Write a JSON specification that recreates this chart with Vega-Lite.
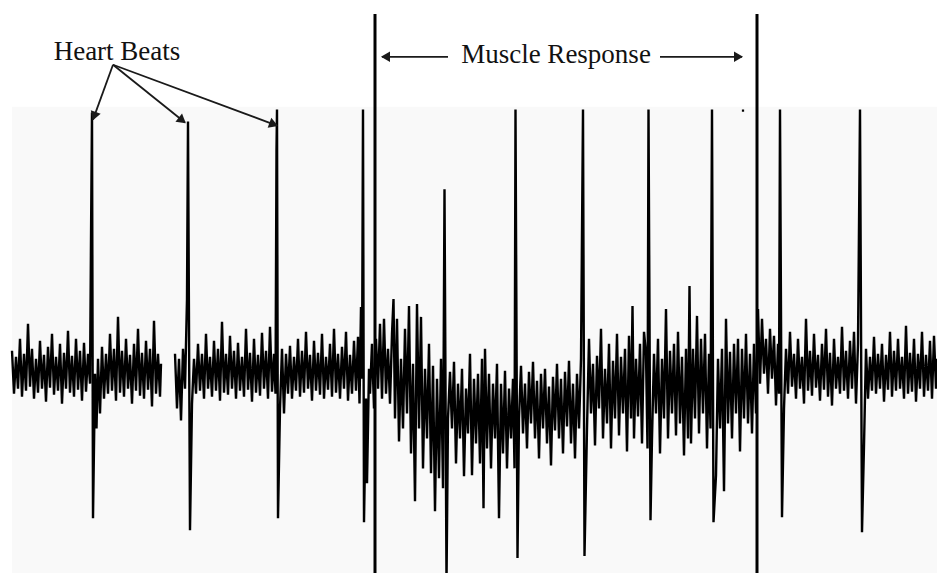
{
"$schema": "https://vega.github.io/schema/vega-lite/v6.json",
"width": 937, "height": 575, "padding": 0,
"autosize": {"type": "fit", "contains": "padding"},
"background": "white",
"config": {"view": {"stroke": null}},
"datasets": {
"panel": [{"t": 12, "t2": 937, "a": 263, "a2": -205}],
"trace": [
{"t":12,"a":18,"s":1},{"t":14,"a":-25,"s":1},{"t":16,"a":12,"s":1},{"t":18,"a":-20,"s":1},{"t":20,"a":30,"s":1},{"t":22,"a":-28,"s":1},{"t":24,"a":15,"s":1},{"t":26,"a":-22,"s":1},{"t":28,"a":45,"s":1},{"t":30,"a":-18,"s":1},{"t":32,"a":20,"s":1},{"t":34,"a":-30,"s":1},{"t":36,"a":10,"s":1},{"t":38,"a":-24,"s":1},{"t":40,"a":28,"s":1},{"t":42,"a":-20,"s":1},{"t":44,"a":14,"s":1},{"t":46,"a":-33,"s":1},{"t":48,"a":22,"s":1},{"t":50,"a":-19,"s":1},{"t":52,"a":35,"s":1},{"t":54,"a":-26,"s":1},{"t":56,"a":12,"s":1},{"t":58,"a":-22,"s":1},{"t":60,"a":25,"s":1},{"t":62,"a":-35,"s":1},{"t":64,"a":16,"s":1},{"t":66,"a":-20,"s":1},{"t":68,"a":38,"s":1},{"t":70,"a":-24,"s":1},{"t":72,"a":13,"s":1},{"t":74,"a":-28,"s":1},{"t":76,"a":30,"s":1},{"t":78,"a":-21,"s":1},{"t":80,"a":18,"s":1},{"t":82,"a":-32,"s":1},{"t":84,"a":26,"s":1},{"t":86,"a":-23,"s":1},{"t":88,"a":15,"s":1},{"t":90,"a":-15,"s":1},{"t":91,"a":130,"s":1},{"t":92,"a":257,"s":1},{"t":93,"a":-150,"s":1},{"t":95,"a":-5,"s":1},{"t":96.5,"a":-60,"s":1},
{"t":98,"a":10,"s":1},{"t":100,"a":-45,"s":1},{"t":102,"a":22,"s":1},{"t":104,"a":-30,"s":1},{"t":106,"a":15,"s":1},{"t":108,"a":-25,"s":1},{"t":110,"a":35,"s":1},{"t":112,"a":-22,"s":1},{"t":114,"a":20,"s":1},{"t":116,"a":-32,"s":1},{"t":118,"a":52,"s":1},{"t":120,"a":-24,"s":1},{"t":122,"a":18,"s":1},{"t":124,"a":-28,"s":1},{"t":126,"a":30,"s":1},{"t":128,"a":-20,"s":1},{"t":130,"a":14,"s":1},{"t":132,"a":-35,"s":1},{"t":134,"a":25,"s":1},{"t":136,"a":-22,"s":1},{"t":138,"a":40,"s":1},{"t":140,"a":-27,"s":1},{"t":142,"a":16,"s":1},{"t":144,"a":-30,"s":1},{"t":146,"a":28,"s":1},{"t":148,"a":-21,"s":1},{"t":150,"a":20,"s":1},{"t":152,"a":-38,"s":1},{"t":154,"a":48,"s":1},{"t":156,"a":-25,"s":1},{"t":158,"a":15,"s":1},{"t":160,"a":-28,"s":1},{"t":161,"a":5,"s":1},
{"t":175,"a":15,"s":2},{"t":177,"a":-40,"s":2},{"t":179,"a":10,"s":2},{"t":181,"a":-52,"s":2},{"t":183,"a":20,"s":2},{"t":185,"a":-20,"s":2},{"t":187,"a":70,"s":2},{"t":188,"a":248,"s":2},{"t":190,"a":-162,"s":2},
{"t":192,"a":-35,"s":2},{"t":194,"a":10,"s":2},{"t":196,"a":-25,"s":2},{"t":198,"a":25,"s":2},{"t":200,"a":-22,"s":2},{"t":202,"a":15,"s":2},{"t":204,"a":-30,"s":2},{"t":206,"a":35,"s":2},{"t":208,"a":-20,"s":2},{"t":210,"a":12,"s":2},{"t":212,"a":-28,"s":2},{"t":214,"a":28,"s":2},{"t":216,"a":-22,"s":2},{"t":218,"a":20,"s":2},{"t":220,"a":-32,"s":2},{"t":222,"a":47,"s":2},{"t":224,"a":-24,"s":2},{"t":226,"a":15,"s":2},{"t":228,"a":-26,"s":2},{"t":230,"a":33,"s":2},{"t":232,"a":-20,"s":2},{"t":234,"a":18,"s":2},{"t":236,"a":-30,"s":2},{"t":238,"a":26,"s":2},{"t":240,"a":-22,"s":2},{"t":242,"a":12,"s":2},{"t":244,"a":-28,"s":2},{"t":246,"a":40,"s":2},{"t":248,"a":-21,"s":2},{"t":250,"a":16,"s":2},{"t":252,"a":-33,"s":2},{"t":254,"a":30,"s":2},{"t":256,"a":-24,"s":2},{"t":258,"a":14,"s":2},{"t":260,"a":-27,"s":2},{"t":262,"a":36,"s":2},{"t":264,"a":-20,"s":2},{"t":266,"a":18,"s":2},{"t":268,"a":-30,"s":2},{"t":270,"a":42,"s":2},{"t":272,"a":-23,"s":2},{"t":274,"a":15,"s":2},{"t":275.5,"a":-25,"s":2},{"t":276.5,"a":220,"s":2},{"t":277,"a":260,"s":2},{"t":278,"a":-150,"s":2},{"t":280,"a":-40,"s":2},
{"t":282,"a":20,"s":2},{"t":284,"a":-45,"s":2},{"t":286,"a":15,"s":2},{"t":288,"a":-25,"s":2},{"t":290,"a":23,"s":2},{"t":292,"a":-30,"s":2},{"t":294,"a":12,"s":2},{"t":296,"a":-22,"s":2},{"t":298,"a":30,"s":2},{"t":300,"a":-28,"s":2},{"t":302,"a":18,"s":2},{"t":304,"a":-24,"s":2},{"t":306,"a":37,"s":2},{"t":308,"a":-20,"s":2},{"t":310,"a":14,"s":2},{"t":312,"a":-32,"s":2},{"t":314,"a":28,"s":2},{"t":316,"a":-22,"s":2},{"t":318,"a":16,"s":2},{"t":320,"a":-26,"s":2},{"t":322,"a":35,"s":2},{"t":324,"a":-30,"s":2},{"t":326,"a":12,"s":2},{"t":328,"a":-21,"s":2},{"t":330,"a":25,"s":2},{"t":332,"a":-28,"s":2},{"t":334,"a":40,"s":2},{"t":336,"a":-24,"s":2},{"t":338,"a":15,"s":2},{"t":340,"a":-30,"s":2},{"t":342,"a":22,"s":2},{"t":344,"a":-20,"s":2},{"t":346,"a":37,"s":2},{"t":348,"a":-32,"s":2},{"t":350,"a":14,"s":2},{"t":352,"a":-25,"s":2},{"t":354,"a":28,"s":2},{"t":356,"a":-22,"s":2},{"t":358,"a":32,"s":2},{"t":359.5,"a":-35,"s":2},{"t":361,"a":62,"s":2},{"t":362,"a":-10,"s":2},{"t":363,"a":260,"s":2},{"t":364,"a":-154,"s":2},{"t":366,"a":-30,"s":2},{"t":367,"a":-115,"s":2},{"t":369,"a":0,"s":2},
{"t":370,"a":-25,"s":2},{"t":372,"a":25,"s":2},{"t":374,"a":-40,"s":2},{"t":376,"a":30,"s":2},{"t":378,"a":-20,"s":2},{"t":380,"a":45,"s":2},{"t":382,"a":-30,"s":2},{"t":384,"a":50,"s":2},{"t":386,"a":-25,"s":2},{"t":388,"a":20,"s":2},{"t":390,"a":-35,"s":2},{"t":392,"a":35,"s":2},{"t":393.5,"a":70,"s":2},{"t":395,"a":-50,"s":2},{"t":397,"a":50,"s":2},{"t":399,"a":-73,"s":2},{"t":401,"a":10,"s":2},{"t":403,"a":-60,"s":2},{"t":405,"a":40,"s":2},{"t":407,"a":-45,"s":2},{"t":409,"a":63,"s":2},{"t":411,"a":-85,"s":2},{"t":413,"a":5,"s":2},{"t":415,"a":-133,"s":2},{"t":417,"a":65,"s":2},{"t":419,"a":-60,"s":2},{"t":421,"a":52,"s":2},{"t":423,"a":-100,"s":2},{"t":425,"a":0,"s":2},{"t":427,"a":-70,"s":2},{"t":429,"a":25,"s":2},{"t":431,"a":-105,"s":2},{"t":433,"a":3,"s":2},{"t":435,"a":-143,"s":2},{"t":437,"a":-10,"s":2},{"t":439,"a":-110,"s":2},{"t":441,"a":10,"s":2},{"t":443,"a":-120,"s":2},{"t":444.5,"a":180,"s":2},{"t":446.5,"a":-215,"s":2},{"t":448,"a":-50,"s":2},
{"t":450,"a":-3,"s":2},{"t":452,"a":-60,"s":2},{"t":454,"a":7,"s":2},{"t":456,"a":-95,"s":2},{"t":458,"a":-15,"s":2},{"t":460,"a":-70,"s":2},{"t":462,"a":0,"s":2},{"t":464,"a":-108,"s":2},{"t":466,"a":-20,"s":2},{"t":468,"a":-65,"s":2},{"t":470,"a":15,"s":2},{"t":472,"a":-107,"s":2},{"t":474,"a":-10,"s":2},{"t":476,"a":-75,"s":2},{"t":478,"a":-5,"s":2},{"t":480,"a":-95,"s":2},{"t":482,"a":10,"s":2},{"t":483.5,"a":-140,"s":2},{"t":485,"a":20,"s":2},{"t":487,"a":-80,"s":2},{"t":489,"a":-5,"s":2},{"t":491,"a":-100,"s":2},{"t":493,"a":-15,"s":2},{"t":495,"a":-70,"s":2},{"t":497,"a":5,"s":2},{"t":499,"a":-150,"s":2},{"t":501,"a":-15,"s":2},{"t":503,"a":-85,"s":2},{"t":505,"a":-2,"s":2},{"t":507,"a":-100,"s":2},{"t":509,"a":-20,"s":2},{"t":511,"a":-70,"s":2},{"t":513,"a":-10,"s":2},{"t":514.5,"a":-100,"s":2},{"t":515.5,"a":260,"s":2},{"t":517.5,"a":-190,"s":2},
{"t":519,"a":-50,"s":2},{"t":521,"a":3,"s":2},{"t":523,"a":-65,"s":2},{"t":525,"a":-15,"s":2},{"t":527,"a":-80,"s":2},{"t":529,"a":-3,"s":2},{"t":531,"a":-55,"s":2},{"t":533,"a":7,"s":2},{"t":535,"a":-70,"s":2},{"t":537,"a":-12,"s":2},{"t":539,"a":-90,"s":2},{"t":541,"a":-5,"s":2},{"t":543,"a":-60,"s":2},{"t":545,"a":0,"s":2},{"t":547,"a":-75,"s":2},{"t":549,"a":-18,"s":2},{"t":551,"a":-97,"s":2},{"t":553,"a":-8,"s":2},{"t":555,"a":-62,"s":2},{"t":557,"a":5,"s":2},{"t":559,"a":-70,"s":2},{"t":561,"a":-10,"s":2},{"t":563,"a":-85,"s":2},{"t":565,"a":-3,"s":2},{"t":567,"a":-58,"s":2},{"t":569,"a":8,"s":2},{"t":571,"a":-75,"s":2},{"t":573,"a":-15,"s":2},{"t":575,"a":-90,"s":2},{"t":577,"a":-5,"s":2},{"t":579,"a":-60,"s":2},{"t":581,"a":10,"s":2},{"t":583,"a":260,"s":2},{"t":584.5,"a":-188,"s":2},
{"t":587,"a":-60,"s":2},{"t":589,"a":30,"s":2},{"t":591,"a":-45,"s":2},{"t":593,"a":5,"s":2},{"t":595,"a":-77,"s":2},{"t":597,"a":13,"s":2},{"t":599,"a":-40,"s":2},{"t":601,"a":40,"s":2},{"t":603,"a":-70,"s":2},{"t":605,"a":0,"s":2},{"t":607,"a":-55,"s":2},{"t":609,"a":25,"s":2},{"t":611,"a":-80,"s":2},{"t":613,"a":8,"s":2},{"t":615,"a":-50,"s":2},{"t":617,"a":35,"s":2},{"t":619,"a":-67,"s":2},{"t":621,"a":12,"s":2},{"t":623,"a":-45,"s":2},{"t":625,"a":20,"s":2},{"t":627,"a":-83,"s":2},{"t":629,"a":33,"s":2},{"t":631,"a":-50,"s":2},{"t":632.5,"a":63,"s":2},{"t":634,"a":-70,"s":2},{"t":636,"a":10,"s":2},{"t":638,"a":-48,"s":2},{"t":640,"a":25,"s":2},{"t":642,"a":-75,"s":2},{"t":644,"a":37,"s":2},{"t":646,"a":15,"s":2},{"t":647.5,"a":-80,"s":2},{"t":648.5,"a":260,"s":2},{"t":650.5,"a":-152,"s":2},
{"t":652,"a":-70,"s":2},{"t":654,"a":15,"s":2},{"t":656,"a":-45,"s":2},{"t":658,"a":30,"s":2},{"t":660,"a":-85,"s":2},{"t":662,"a":10,"s":2},{"t":664,"a":-50,"s":2},{"t":666,"a":60,"s":2},{"t":668,"a":-70,"s":2},{"t":670,"a":18,"s":2},{"t":672,"a":-45,"s":2},{"t":674,"a":25,"s":2},{"t":676,"a":-67,"s":2},{"t":678,"a":37,"s":2},{"t":680,"a":-55,"s":2},{"t":682,"a":12,"s":2},{"t":684,"a":-87,"s":2},{"t":686,"a":20,"s":2},{"t":688,"a":-70,"s":2},{"t":689.5,"a":83,"s":2},{"t":691,"a":-75,"s":2},{"t":693,"a":20,"s":2},{"t":695,"a":-50,"s":2},{"t":697,"a":53,"s":2},{"t":699,"a":-65,"s":2},{"t":701,"a":30,"s":2},{"t":703,"a":-45,"s":2},{"t":705,"a":35,"s":2},{"t":707,"a":-80,"s":2},{"t":709,"a":15,"s":2},{"t":710.5,"a":-60,"s":2},{"t":712,"a":260,"s":2},{"t":713.5,"a":-154,"s":2},
{"t":716,"a":-107,"s":2},{"t":718,"a":10,"s":2},{"t":720,"a":-60,"s":2},{"t":722,"a":20,"s":2},{"t":724,"a":-123,"s":2},{"t":726,"a":50,"s":2},{"t":728,"a":-55,"s":2},{"t":730,"a":17,"s":2},{"t":732,"a":-70,"s":2},{"t":734,"a":25,"s":2},{"t":736,"a":-45,"s":2},{"t":738,"a":30,"s":2},{"t":740,"a":-83,"s":2},{"t":742,"a":20,"s":2},{"t":744,"a":-50,"s":2},{"t":746,"a":35,"s":2},{"t":748,"a":-55,"s":2},{"t":750,"a":15,"s":2},{"t":752,"a":-65,"s":2},{"t":754,"a":25,"s":2},{"t":756,"a":-45,"s":2},
{"t":758,"a":60,"s":2},{"t":760,"a":-15,"s":2},{"t":762,"a":50,"s":2},{"t":764,"a":-5,"s":2},{"t":766,"a":30,"s":2},{"t":768,"a":-25,"s":2},{"t":770,"a":40,"s":2},{"t":772,"a":-10,"s":2},{"t":774,"a":33,"s":2},{"t":776,"a":-37,"s":2},{"t":778,"a":25,"s":2},{"t":779,"a":-25,"s":2},{"t":780,"a":260,"s":2},{"t":782,"a":-149,"s":2},
{"t":784,"a":-40,"s":2},{"t":786,"a":20,"s":2},{"t":788,"a":-25,"s":2},{"t":790,"a":37,"s":2},{"t":792,"a":-18,"s":2},{"t":794,"a":15,"s":2},{"t":796,"a":-30,"s":2},{"t":798,"a":30,"s":2},{"t":800,"a":-20,"s":2},{"t":802,"a":12,"s":2},{"t":804,"a":-35,"s":2},{"t":806,"a":50,"s":2},{"t":808,"a":-22,"s":2},{"t":810,"a":18,"s":2},{"t":812,"a":-27,"s":2},{"t":814,"a":35,"s":2},{"t":816,"a":-19,"s":2},{"t":818,"a":14,"s":2},{"t":820,"a":-32,"s":2},{"t":822,"a":25,"s":2},{"t":824,"a":-21,"s":2},{"t":826,"a":40,"s":2},{"t":828,"a":-28,"s":2},{"t":830,"a":16,"s":2},{"t":832,"a":-37,"s":2},{"t":834,"a":30,"s":2},{"t":836,"a":-20,"s":2},{"t":838,"a":12,"s":2},{"t":840,"a":-25,"s":2},{"t":842,"a":42,"s":2},{"t":844,"a":-22,"s":2},{"t":846,"a":18,"s":2},{"t":848,"a":-30,"s":2},{"t":850,"a":28,"s":2},{"t":852,"a":-20,"s":2},{"t":854,"a":37,"s":2},{"t":856,"a":-35,"s":2},{"t":858,"a":25,"s":2},{"t":860,"a":260,"s":2},{"t":862,"a":-164,"s":2},{"t":864,"a":-77,"s":2},
{"t":866,"a":20,"s":2},{"t":868,"a":-30,"s":2},{"t":870,"a":12,"s":2},{"t":872,"a":-22,"s":2},{"t":874,"a":32,"s":2},{"t":876,"a":-25,"s":2},{"t":878,"a":15,"s":2},{"t":880,"a":-20,"s":2},{"t":882,"a":25,"s":2},{"t":884,"a":-33,"s":2},{"t":886,"a":14,"s":2},{"t":888,"a":-21,"s":2},{"t":890,"a":37,"s":2},{"t":892,"a":-28,"s":2},{"t":894,"a":18,"s":2},{"t":896,"a":-22,"s":2},{"t":898,"a":30,"s":2},{"t":900,"a":-20,"s":2},{"t":902,"a":12,"s":2},{"t":904,"a":-30,"s":2},{"t":906,"a":43,"s":2},{"t":908,"a":-25,"s":2},{"t":910,"a":16,"s":2},{"t":912,"a":-23,"s":2},{"t":914,"a":30,"s":2},{"t":916,"a":-33,"s":2},{"t":918,"a":15,"s":2},{"t":920,"a":-20,"s":2},{"t":922,"a":37,"s":2},{"t":924,"a":-28,"s":2},{"t":926,"a":14,"s":2},{"t":928,"a":-22,"s":2},{"t":930,"a":28,"s":2},{"t":932,"a":-30,"s":2},{"t":934,"a":33,"s":2},{"t":936,"a":-20,"s":2},{"t":937,"a":10,"s":2}
],
"markers": [{"t": 375, "a": 356, "a2": -205}, {"t": 757, "a": 356, "a2": -205}],
"arrows": [
{"t": 113, "a": 305, "t2": 93, "a2": 250},
{"t": 113, "a": 305, "t2": 185, "a2": 247},
{"t": 113, "a": 305, "t2": 277, "a2": 244},
{"t": 448, "a": 313, "t2": 382, "a2": 313},
{"t": 660, "a": 313, "t2": 742, "a2": 313}
],
"labels": [{"label": "Heart Beats", "t": 117, "a": 310}, {"label": "Muscle Response", "t": 556, "a": 307}],
"dots": [{"t": 743, "a": 259}]
},
"layer": [
{
"data": {"name": "panel"},
"mark": {"type": "rect", "fill": "#f9f9f9"},
"encoding": {
"x": {"field": "t", "type": "quantitative", "scale": {"domain": [0, 937], "nice": false, "zero": false}, "axis": null},
"x2": {"field": "t2"},
"y": {"field": "a", "type": "quantitative", "scale": {"domain": [-205, 370], "nice": false, "zero": false}, "axis": null},
"y2": {"field": "a2"}
}
},
{
"data": {"name": "trace"},
"mark": {"type": "line", "color": "#000000", "strokeWidth": 2.4, "clip": true},
"encoding": {
"x": {"field": "t", "type": "quantitative", "axis": null},
"y": {"field": "a", "type": "quantitative", "axis": null},
"detail": {"field": "s", "type": "nominal"}
}
},
{
"data": {"name": "markers"},
"mark": {"type": "rule", "color": "#000000", "strokeWidth": 3},
"encoding": {
"x": {"field": "t", "type": "quantitative"},
"y": {"field": "a", "type": "quantitative"},
"y2": {"field": "a2"}
}
},
{
"data": {"name": "arrows"},
"mark": {"type": "rule", "color": "#1a1a1a", "strokeWidth": 1.8},
"encoding": {
"x": {"field": "t", "type": "quantitative"},
"y": {"field": "a", "type": "quantitative"},
"x2": {"field": "t2"},
"y2": {"field": "a2"}
}
},
{
"data": {"name": "arrows"},
"transform": [
{"calculate": "atan2(datum.t2 - datum.t, datum.a2 - datum.a)", "as": "th"},
{"calculate": "(datum.th * 180 / PI + 360) % 360", "as": "ang"},
{"calculate": "datum.t2 - 5 * sin(datum.th)", "as": "tc"},
{"calculate": "datum.a2 - 5 * cos(datum.th)", "as": "ac"}
],
"mark": {"type": "point", "shape": "triangle", "filled": true, "size": 110, "color": "#1a1a1a", "opacity": 1},
"encoding": {
"x": {"field": "tc", "type": "quantitative"},
"y": {"field": "ac", "type": "quantitative"},
"angle": {"field": "ang", "type": "quantitative", "scale": null}
}
},
{
"data": {"name": "labels"},
"mark": {"type": "text", "font": "Liberation Serif", "fontSize": 27, "align": "center", "baseline": "alphabetic", "color": "#111111"},
"encoding": {
"x": {"field": "t", "type": "quantitative"},
"y": {"field": "a", "type": "quantitative"},
"text": {"field": "label"}
}
},
{
"data": {"name": "dots"},
"mark": {"type": "point", "shape": "square", "filled": true, "size": 5, "color": "#000000", "opacity": 1},
"encoding": {
"x": {"field": "t", "type": "quantitative"},
"y": {"field": "a", "type": "quantitative"}
}
}
]
}
